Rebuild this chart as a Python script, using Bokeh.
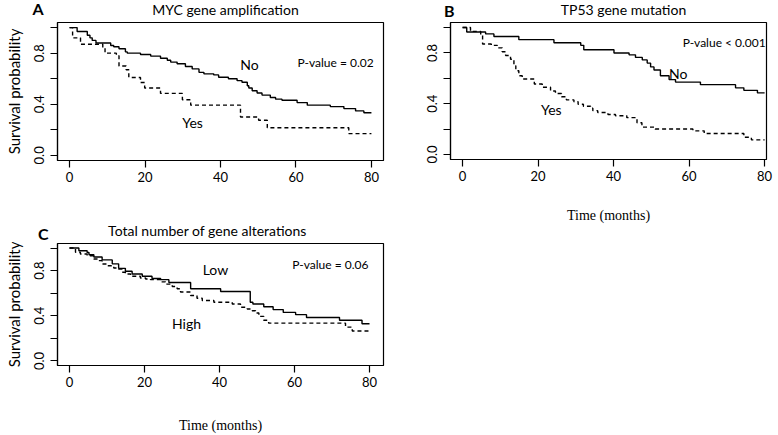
import math
from bokeh.plotting import figure
from bokeh.models import FixedTicker, Label
from bokeh.layouts import column, row
from bokeh.embed import file_html
from bokeh.resources import INLINE

# ---------------- data ----------------
ticks_x = [0, 20, 40, 60, 80]
ticks_y = [0.0, 0.2, 0.4, 0.6, 0.8, 1.0]
y_tick_labels = {0.0: "0.0", 0.2: "", 0.4: "0.4", 0.6: "", 0.8: "0.8", 1.0: ""}

titles = ["MYC gene amplification", "TP53 gene mutation", "Total number of gene alterations"]
letters = ["A", "B", "C"]
y_title = "Survival probability"
x_title = "Time (months)"

# Panel A: MYC gene amplification
a_no_t = [0, 2.0, 4.7, 5.4, 6.0, 7.0, 10.9, 11.7, 13.1, 14.8, 15.3, 18.8, 21.5, 24.1, 25.9, 26.8,
          28.5, 30.7, 32.5, 34.3, 35.6, 38.2, 39.5, 42.1, 44.4, 45.7, 47.1, 47.5, 48.4, 49.7, 51.0,
          53.2, 54.6, 56.3, 60.3, 63.0, 69.1, 72.7, 75.8, 78.0, 80]
a_no_s = [1.0, 0.97, 0.94, 0.92, 0.90, 0.88, 0.86, 0.85, 0.835, 0.81, 0.80, 0.79, 0.777, 0.76, 0.745,
          0.73, 0.717, 0.696, 0.677, 0.65, 0.638, 0.63, 0.611, 0.60, 0.585, 0.572, 0.545, 0.527, 0.506,
          0.488, 0.472, 0.453, 0.44, 0.432, 0.413, 0.393, 0.382, 0.366, 0.348, 0.334, 0.334]
a_yes_t = [0, 0.8, 2.9, 8.8, 9.4, 12.4, 13.1, 15.0, 15.7, 18.8, 19.9, 24.1, 29.9, 32.1, 45.3, 50.1,
           52.4, 74.0, 80]
a_yes_s = [1.0, 0.92, 0.87, 0.84, 0.80, 0.78, 0.70, 0.67, 0.61, 0.57, 0.527, 0.485, 0.435, 0.393,
           0.30, 0.275, 0.216, 0.17, 0.17]

# Panel B: TP53 gene mutation
b_no_t = [0, 1.1, 6.1, 8.3, 14.9, 24.2, 31.3, 32.1, 40.1, 44.1, 45.8, 47.6, 48.9, 49.8, 50.7, 52.4,
          54.7, 56.4, 63.0, 72.3, 74.5, 78.1, 80]
b_no_s = [1.0, 0.965, 0.95, 0.93, 0.905, 0.88, 0.86, 0.825, 0.80, 0.785, 0.765, 0.745, 0.72, 0.69,
          0.665, 0.62, 0.59, 0.57, 0.55, 0.525, 0.505, 0.485, 0.485]
b_yes_t = [0, 2.1, 4.8, 5.3, 7.6, 9.2, 10.5, 11.4, 12.7, 13.6, 14.1, 14.9, 15.8, 19.0, 21.1, 23.3,
           24.6, 26.2, 27.5, 29.5, 30.6, 32.0, 33.9, 34.5, 35.8, 38.5, 40.5, 43.5, 46.2, 47.5, 51.0,
           61.0, 64.0, 74.5, 76.5, 80]
b_yes_s = [1.0, 0.97, 0.94, 0.87, 0.86, 0.84, 0.81, 0.78, 0.75, 0.70, 0.66, 0.62, 0.595, 0.555, 0.53,
           0.50, 0.48, 0.455, 0.43, 0.415, 0.395, 0.38, 0.365, 0.345, 0.33, 0.315, 0.305, 0.29, 0.25,
           0.215, 0.20, 0.186, 0.165, 0.135, 0.115, 0.115]

# Panel C: Total number of gene alterations
c_low_t = [0, 2.5, 4.7, 5.2, 6.5, 8.7, 11.4, 13.1, 14.9, 16.7, 19.4, 22.0, 24.3, 26.5, 32.3, 40.3,
           48.2, 48.9, 51.8, 54.3, 57.0, 60.3, 63.2, 72.0, 78.0, 80]
c_low_s = [1.0, 0.976, 0.96, 0.94, 0.92, 0.895, 0.86, 0.82, 0.795, 0.77, 0.75, 0.73, 0.72, 0.695,
           0.64, 0.615, 0.52, 0.505, 0.48, 0.455, 0.43, 0.41, 0.385, 0.36, 0.33, 0.33]
c_high_t = [0, 1.6, 2.9, 4.7, 6.5, 7.8, 8.7, 10.0, 11.8, 13.1, 14.0, 14.9, 16.3, 18.9, 20.3, 21.6,
            24.3, 25.6, 27.4, 28.7, 29.6, 32.3, 34.0, 35.4, 38.5, 43.4, 45.6, 47.4, 48.7, 49.6,
            50.5, 51.8, 53.1, 73.6, 75.4, 80]
c_high_s = [1.0, 0.962, 0.947, 0.932, 0.903, 0.888, 0.858, 0.843, 0.823, 0.814, 0.785, 0.77, 0.75,
            0.735, 0.726, 0.72, 0.70, 0.68, 0.66, 0.64, 0.61, 0.58, 0.555, 0.535, 0.52, 0.505, 0.475,
            0.46, 0.445, 0.425, 0.395, 0.36, 0.335, 0.30, 0.265, 0.265]

FONT = "Lato"
NARROW = "Liberation Sans Narrow"


def make_fig(w, h, xr, bl, br, bt, bb):
    p = figure(width=w, height=h, x_range=xr, y_range=(-0.04, 1.04),
               output_backend="svg", toolbar_location=None,
               min_border_left=bl, min_border_right=br,
               min_border_top=bt, min_border_bottom=bb)
    p.grid.visible = False
    p.background_fill_color = "white"
    p.border_fill_color = "white"
    p.outline_line_color = "black"
    p.outline_line_width = 1.2
    p.outline_line_alpha = 1.0
    p.xaxis.ticker = FixedTicker(ticks=ticks_x)
    p.yaxis.ticker = FixedTicker(ticks=ticks_y)
    p.yaxis.major_label_overrides = y_tick_labels
    p.yaxis.major_label_orientation = "vertical"
    for ax in (p.xaxis, p.yaxis):
        ax.axis_line_color = "black"
        ax.axis_line_width = 1.2
        ax.major_tick_line_color = "black"
        ax.major_tick_line_width = 1.2
        ax.major_tick_out = 7
        ax.major_tick_in = 0
        ax.minor_tick_line_color = None
        ax.major_label_text_font = FONT
        ax.major_label_text_font_size = "13px"
        ax.major_label_text_color = "black"
        ax.axis_label_text_font_style = "normal"
        ax.axis_label_text_color = "black"
    p.xaxis.major_label_standoff = 4
    p.yaxis.major_label_standoff = 6
    return p


def add_ylabel(p):
    p.yaxis.axis_label = y_title
    p.yaxis.axis_label_text_font = FONT
    p.yaxis.axis_label_text_font_size = "15px"
    p.yaxis.axis_label_standoff = 9


def add_xlabel(p, standoff):
    p.xaxis.axis_label = x_title
    p.xaxis.axis_label_text_font = NARROW
    p.xaxis.axis_label_text_font_size = "14px"
    p.xaxis.axis_label_standoff = standoff


def strip(w, h, x0, x1, letter, letter_y, letter_standoff):
    # title strip above a panel: x in page pixels (frame aligned with the panel below),
    # y measured upward from the strip's bottom edge in pixels
    s = figure(width=w, height=h, x_range=(x0, x1), y_range=(0, h),
               output_backend="svg", toolbar_location=None, x_axis_type=None,
               min_border=0)
    s.grid.visible = False
    s.outline_line_color = None
    s.background_fill_color = "white"
    s.border_fill_color = "white"
    ax = s.yaxis[0]
    ax.ticker = FixedTicker(ticks=[letter_y])
    ax.major_label_overrides = {letter_y: letter}
    ax.axis_line_color = None
    ax.major_tick_line_color = None
    ax.minor_tick_line_color = None
    ax.major_tick_out = 0
    ax.major_tick_in = 0
    ax.major_label_standoff = letter_standoff
    ax.major_label_text_font = FONT
    ax.major_label_text_font_size = "16px"
    ax.major_label_text_font_style = "bold"
    ax.major_label_text_color = "black"
    return s


def curve(p, t, s, dashed):
    p.step(t, s, mode="after", line_color="black", line_width=1.4,
           line_dash="4 3" if dashed else "solid")


def lab(p, x, y, text, size="14px", align="center", baseline="middle",
        font=FONT, style="normal", angle=0.0):
    p.add_layout(Label(x=x, y=y, text=text, text_font=font, text_font_size=size,
                       text_align=align, text_baseline=baseline, text_font_style=style,
                       text_color="black", angle=angle))


# ---------------- Panel A ----------------
sA = strip(395, 21, 57, 383, letters[0], 5.5, 14)
lab(sA, 225, 11.7, titles[0], size="14px", baseline="alphabetic")

pA = make_fig(395, 201, (-3.2, 83.2), 57, 12, 1, 62)
add_ylabel(pA)
curve(pA, a_no_t, a_no_s, False)
curve(pA, a_yes_t, a_yes_s, True)
lab(pA, 47.7, 0.711, "No")
lab(pA, 32.6, 0.254, "Yes")
lab(pA, 80.6, 0.727, "P-value = 0.02", size="12px", align="right")

# ---------------- Panel B ----------------
sB = strip(383, 21, 450, 766, letters[1], 7.5, -4)
lab(sB, 623, 11.7, titles[1], size="14px", baseline="alphabetic")

pB = make_fig(383, 214, (-3.2, 80.5), 55, 12, 1, 76)
add_xlabel(pB, 24)
curve(pB, b_no_t, b_no_s, False)
curve(pB, b_yes_t, b_yes_s, True)
lab(pB, 57.1, 0.641, "No")
lab(pB, 23.5, 0.354, "Yes")
lab(pB, 80.3, 0.882, "P-value < 0.001", size="12px", align="right")

# ---------------- Panel C ----------------
sC = strip(395, 20, 57, 383, letters[2], 9.5, 9)
lab(sC, 207, 12.5, titles[2], size="14px", baseline="alphabetic")

pC = make_fig(395, 193, (-3.2, 83.73), 57, 12, 1, 68)
add_ylabel(pC)
add_xlabel(pC, 28)
curve(pC, c_low_t, c_low_s, False)
curve(pC, c_high_t, c_high_s, True)
lab(pC, 38.9, 0.814, "Low")
lab(pC, 31.2, 0.334, "High")
lab(pC, 79.7, 0.857, "P-value = 0.06", size="12px", align="right")

layout = row(column(sA, pA, sC, pC, spacing=0), column(sB, pB, spacing=0), spacing=0)
open("out.html", "w").write(file_html(layout, INLINE))
